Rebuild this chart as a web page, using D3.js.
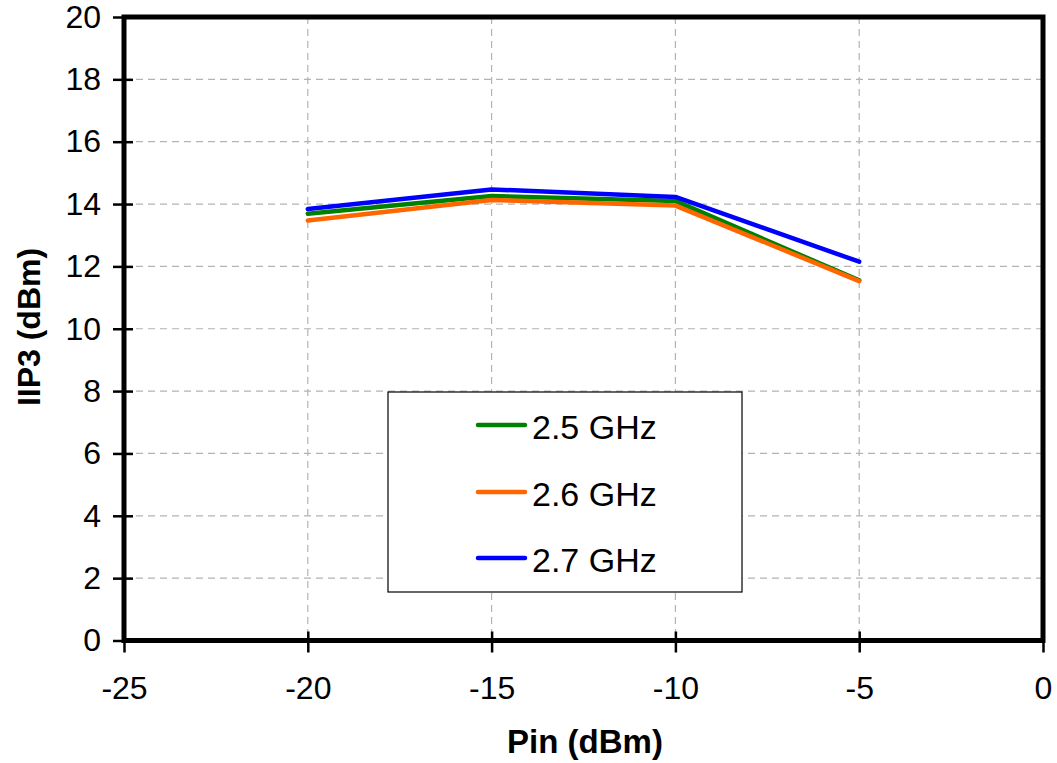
<!DOCTYPE html>
<html>
<head>
<meta charset="utf-8">
<script src="https://cdn.jsdelivr.net/npm/d3@7"></script>
<style>
  html, body { margin: 0; padding: 0; background: #fff; }
  svg text { font-family: "Liberation Sans", Arial, Helvetica, sans-serif; fill: #000; }
</style>
</head>
<body>
<svg id="chart" width="1057" height="763"></svg>
<script>
const pin = [-20, -15, -10, -5];
const iip3_25 = [13.69, 14.26, 14.10, 11.55];
const iip3_26 = [13.47, 14.13, 13.95, 11.53];
const iip3_27 = [13.84, 14.47, 14.23, 12.15];
const seriesNames = ["2.5 GHz", "2.6 GHz", "2.7 GHz"];
const seriesColors = ["#008000", "#ff6600", "#0000ff"];
const xTicks = [-25, -20, -15, -10, -5, 0];
const yTicks = [0, 2, 4, 6, 8, 10, 12, 14, 16, 18, 20];

const svg = d3.select("#chart");
const L = 124, R = 1043, T = 17, B = 640.5;
const x = d3.scaleLinear().domain([-25, 0]).range([L, R]);
const y = d3.scaleLinear().domain([0, 20]).range([B, T]);
const fmt = d => String(d);

// grid
svg.append("g").selectAll("line").data(yTicks.filter(d => d > 0 && d < 20)).join("line")
  .attr("x1", L).attr("x2", R).attr("y1", d => y(d)).attr("y2", d => y(d))
  .attr("stroke", "#b3b3b3").attr("stroke-width", 1.2).attr("stroke-dasharray", "7,5");
svg.append("g").selectAll("line").data(xTicks.filter(d => d > -25 && d < 0)).join("line")
  .attr("x1", d => x(d)).attr("x2", d => x(d)).attr("y1", T).attr("y2", B)
  .attr("stroke", "#b3b3b3").attr("stroke-width", 1.2).attr("stroke-dasharray", "7,5");

// axes
const xAxis = d3.axisBottom(x).tickValues(xTicks).tickSize(0).tickPadding(36).tickFormat(fmt);
const gx = svg.append("g").attr("transform", `translate(0,${B})`).call(xAxis);
gx.select(".domain").remove();
gx.selectAll(".tick line").attr("y1", -9).attr("y2", 12).attr("stroke", "#000").attr("stroke-width", 2.5);
gx.selectAll(".tick text").attr("font-size", 32).attr("font-family", "Liberation Sans, Arial, sans-serif").attr("fill", "#000");

const yAxis = d3.axisLeft(y).tickValues(yTicks).tickSize(11).tickPadding(12).tickFormat(fmt);
const gy = svg.append("g").attr("transform", `translate(${L},0)`).call(yAxis);
gy.select(".domain").remove();
gy.selectAll(".tick line").attr("x1", -11).attr("x2", 9).attr("stroke", "#000").attr("stroke-width", 2.5);
gy.selectAll(".tick text").attr("font-size", 32).attr("font-family", "Liberation Sans, Arial, sans-serif").attr("fill", "#000");

// frame
svg.append("rect").attr("x", L).attr("y", T).attr("width", R - L).attr("height", B - T)
  .attr("fill", "none").attr("stroke", "#000").attr("stroke-width", 5);

// series
const data = [iip3_25, iip3_26, iip3_27];
const line = d3.line().x((d, i) => x(pin[i])).y(d => y(d));
data.forEach((vals, k) => {
  svg.append("path").datum(vals).attr("d", line)
    .attr("fill", "none").attr("stroke", seriesColors[k]).attr("stroke-width", 4.5)
    .attr("stroke-linejoin", "round").attr("stroke-linecap", "round");
});

// axis titles
svg.append("text").attr("x", 585).attr("y", 753).attr("text-anchor", "middle")
  .attr("font-size", 33).attr("font-weight", "bold").text("Pin (dBm)");
svg.append("text").attr("transform", `translate(40,327) rotate(-90)`).attr("text-anchor", "middle")
  .attr("font-size", 32).attr("font-weight", "bold").text("IIP3 (dBm)");

// legend
const lg = svg.append("g");
lg.append("rect").attr("x", 388).attr("y", 392).attr("width", 354).attr("height", 200)
  .attr("fill", "#fff").attr("stroke", "#000").attr("stroke-width", 1.2);
const rowsY = [425, 492, 558];
seriesNames.forEach((n, k) => {
  lg.append("line").attr("x1", 478).attr("x2", 525).attr("y1", rowsY[k]).attr("y2", rowsY[k])
    .attr("stroke", seriesColors[k]).attr("stroke-width", 4.5).attr("stroke-linecap", "round");
  lg.append("text").attr("x", 532).attr("y", rowsY[k] + 14).attr("font-size", 34).text(n);
});
</script>
</body>
</html>
